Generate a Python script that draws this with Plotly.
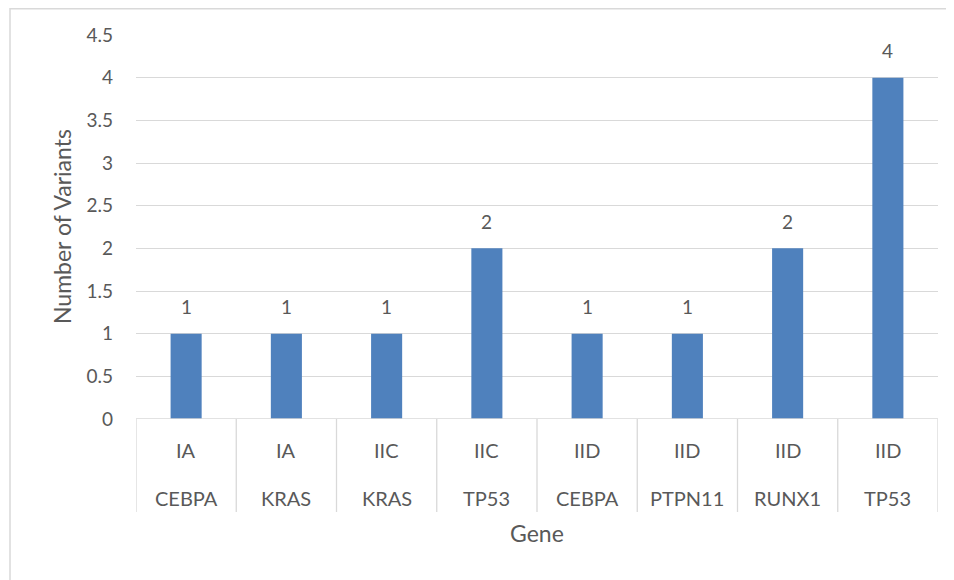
import plotly.graph_objects as go

stages = ["IA", "IA", "IIC", "IIC", "IID", "IID", "IID", "IID"]
genes = ["CEBPA", "KRAS", "KRAS", "TP53", "CEBPA", "PTPN11", "RUNX1", "TP53"]
counts = [1, 1, 1, 2, 1, 1, 2, 4]
y_ticks = [0, 0.5, 1, 1.5, 2, 2.5, 3, 3.5, 4, 4.5]

# page has an 8px body margin; figure sized to fit inside it
W, H = 946, 572
ML, MR, MT, MB = 128, 16, 27, 161
PW, PH = W - ML - MR, H - MT - MB

FONT = "Lato"
TXT = "#595959"
GRID = "#D9D9D9"
BAR = "#4F81BD"

xs = list(range(len(counts)))

fig = go.Figure()
fig.add_trace(go.Bar(
    x=xs, y=counts, width=0.31, marker=dict(color=BAR, line=dict(width=0)),
))

shapes = []
shapes.append(dict(type="line", xref="paper", yref="y", x0=0, x1=1, y0=0, y1=0,
                   line=dict(color=GRID, width=1.3), layer="above"))
div_len = 93 / PH
for i in range(len(counts) + 1):
    shapes.append(dict(type="line", xref="x", yref="paper", x0=i - 0.5, x1=i - 0.5,
                       y0=0, y1=-div_len, line=dict(color=GRID, width=1.3)))
bl = (2 - ML) / PW
bt = 1 + (MT - 0.8) / PH
shapes.append(dict(type="rect", xref="paper", yref="paper",
                   x0=bl, x1=1 + (MR + 20) / PW, y0=-(MB + 20) / PH, y1=bt,
                   line=dict(color=GRID, width=1.5), fillcolor="rgba(0,0,0,0)"))

annotations = []
for i in xs:
    annotations.append(dict(x=i, xref="x", y=counts[i], yref="y", yshift=27, text=str(counts[i]),
                            showarrow=False, yanchor="middle",
                            font=dict(family=FONT, size=19, color=TXT)))
    annotations.append(dict(x=i, xref="x", y=0, yref="paper", yshift=-31, text=stages[i],
                            showarrow=False, yanchor="middle",
                            font=dict(family=FONT, size=20, color=TXT)))
    annotations.append(dict(x=i, xref="x", y=0, yref="paper", yshift=-79, text=genes[i],
                            showarrow=False, yanchor="middle",
                            font=dict(family=FONT, size=20, color=TXT)))
annotations.append(dict(x=0.5, xref="paper", y=0, yref="paper", yshift=-114, text="Gene",
                        showarrow=False, yanchor="middle",
                        font=dict(family=FONT, size=23, color=TXT)))
annotations.append(dict(x=(54 - ML) / PW, xref="paper", y=0.5, yref="paper", text="Number of Variants",
                        textangle=-90, showarrow=False, xanchor="center", yanchor="middle",
                        font=dict(family=FONT, size=23, color=TXT)))

fig.update_layout(
    width=W, height=H, margin=dict(l=ML, r=MR, t=MT, b=MB),
    paper_bgcolor="white", plot_bgcolor="white", showlegend=False,
    shapes=shapes, annotations=annotations,
    xaxis=dict(range=[-0.5, len(counts) - 0.5], showticklabels=False, showgrid=False,
               zeroline=False, showline=False, ticks=""),
    yaxis=dict(range=[0, 4.5], tickvals=y_ticks, showgrid=True, gridcolor=GRID, gridwidth=1.3,
               zeroline=False, showline=False, ticks="", ticklabelstandoff=22,
               tickfont=dict(family=FONT, size=19, color=TXT)),
)

fig.write_html("out.html")
